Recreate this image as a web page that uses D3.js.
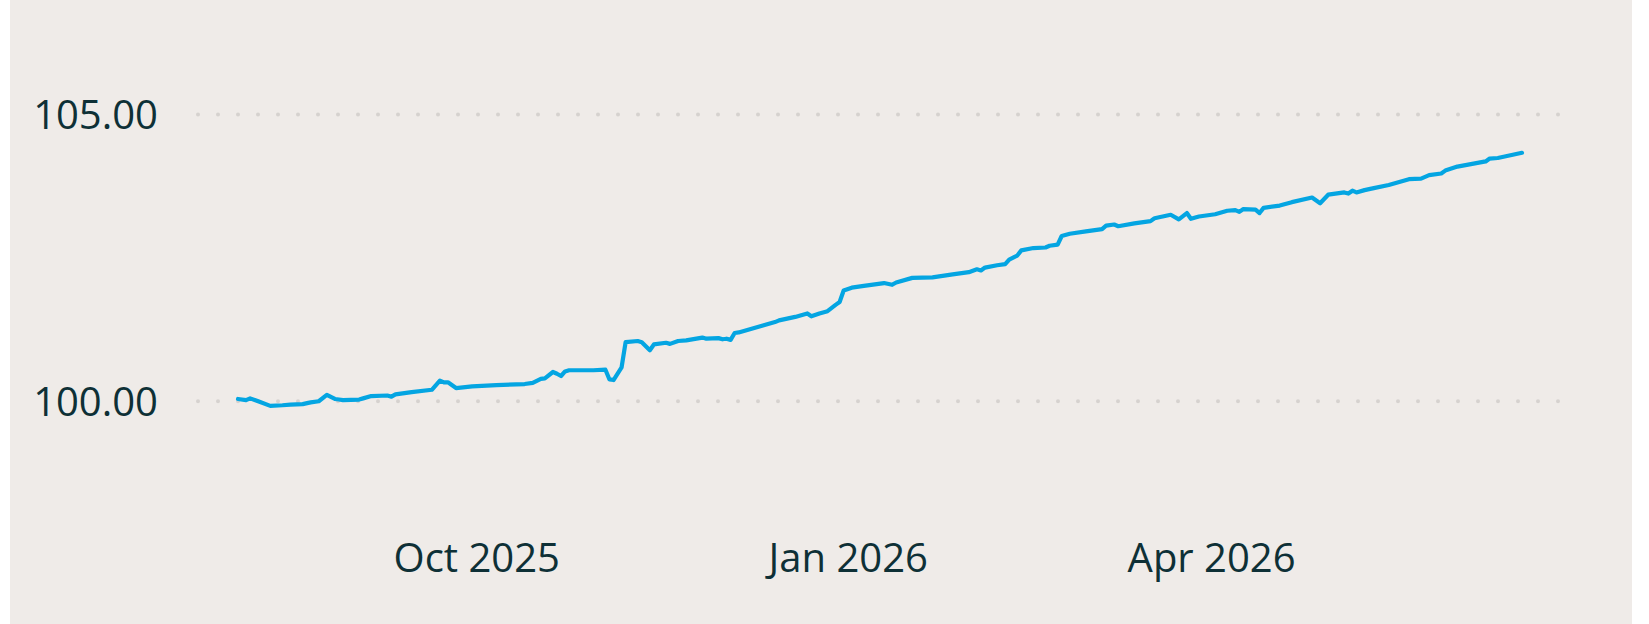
<!DOCTYPE html>
<html>
<head>
<meta charset="utf-8">
<script src="https://cdn.jsdelivr.net/npm/d3@7"></script>
<style>
    html, body { margin: 0; padding: 0; background: #ffffff; }
    svg { display: block; }
    .tick-label { font-family: "Segoe UI", "Open Sans", sans-serif; font-size: 40px; fill: #0e3036; }
</style>
</head>
<body>
<svg id="chart" width="1649" height="624"></svg>
<script>
// index values
const dates = [
    "2025-08-03","2025-08-05","2025-08-06","2025-08-08","2025-08-11","2025-08-14","2025-08-16","2025-08-19",
    "2025-08-21","2025-08-23","2025-08-25","2025-08-27","2025-08-28","2025-08-29","2025-09-02","2025-09-03",
    "2025-09-05","2025-09-09","2025-09-10","2025-09-11","2025-09-15","2025-09-20","2025-09-22","2025-09-23",
    "2025-09-24","2025-09-26","2025-09-30","2025-10-06","2025-10-13","2025-10-15","2025-10-17","2025-10-18",
    "2025-10-20","2025-10-21","2025-10-22","2025-10-23","2025-10-24","2025-10-30","2025-11-02","2025-11-03",
    "2025-11-04","2025-11-06","2025-11-07","2025-11-10","2025-11-11","2025-11-13","2025-11-14","2025-11-17",
    "2025-11-18","2025-11-20","2025-11-22","2025-11-26","2025-11-27","2025-11-30","2025-12-01","2025-12-02",
    "2025-12-03","2025-12-04","2025-12-05","2025-12-11","2025-12-14","2025-12-15","2025-12-19","2025-12-22",
    "2025-12-23","2025-12-25","2025-12-27","2025-12-29","2025-12-30","2025-12-31","2026-01-02","2026-01-05",
    "2026-01-10","2026-01-12","2026-01-13","2026-01-17","2026-01-22","2026-01-27","2026-01-31","2026-02-02",
    "2026-02-03","2026-02-04","2026-02-07","2026-02-09","2026-02-10","2026-02-12","2026-02-13","2026-02-16",
    "2026-02-19","2026-02-20","2026-02-22","2026-02-23","2026-02-25","2026-03-01","2026-03-05","2026-03-06",
    "2026-03-08","2026-03-09","2026-03-13","2026-03-17","2026-03-18","2026-03-22","2026-03-24","2026-03-26",
    "2026-03-27","2026-03-29","2026-04-02","2026-04-05","2026-04-07","2026-04-08","2026-04-09","2026-04-12",
    "2026-04-13","2026-04-14","2026-04-18","2026-04-21","2026-04-26","2026-04-28","2026-04-30","2026-05-04",
    "2026-05-05","2026-05-06","2026-05-07","2026-05-09","2026-05-11","2026-05-15","2026-05-20","2026-05-23",
    "2026-05-25","2026-05-28","2026-05-29","2026-06-01","2026-06-08","2026-06-09","2026-06-11","2026-06-17"
];
const values = [
    100.04,100.02,100.05,100.00, 99.92, 99.93, 99.94, 99.95,
     99.98,100.00,100.11,100.04,100.03,100.02,100.03,100.05,
    100.09,100.10,100.08,100.12,100.16,100.20,100.36,100.33,
    100.33,100.23,100.26,100.28,100.30,100.32,100.39,100.40,
    100.51,100.48,100.44,100.52,100.54,100.54,100.55,100.38,
    100.37,100.59,101.03,101.05,101.03,100.89,100.99,101.02,
    101.00,101.05,101.06,101.11,101.09,101.10,101.08,101.09,
    101.07,101.19,101.20,101.32,101.38,101.41,101.47,101.53,
    101.48,101.53,101.57,101.68,101.73,101.93,101.98,102.01,
    102.06,102.03,102.07,102.15,102.16,102.21,102.25,102.30,
    102.28,102.33,102.37,102.39,102.47,102.54,102.63,102.67,
    102.68,102.71,102.73,102.88,102.92,102.96,103.00,103.06,
    103.08,103.05,103.10,103.14,103.19,103.25,103.17,103.28,
    103.18,103.22,103.26,103.32,103.33,103.30,103.35,103.34,
    103.28,103.37,103.41,103.47,103.55,103.45,103.60,103.64,
    103.62,103.67,103.64,103.68,103.71,103.77,103.87,103.88,
    103.94,103.97,104.02,104.09,104.18,104.23,104.24,104.33
];
const yTicks = [100, 105];
const xTicks = ["2025-10-01", "2026-01-01", "2026-04-01"];
const xTickLabels = ["Oct 2025", "Jan 2026", "Apr 2026"];

const W = 1649, H = 624;
const margin = { top: 57, right: 89, bottom: 108, left: 197 };
const w = W - margin.left - margin.right;
const h = H - margin.top - margin.bottom;

const parse = d3.utcParse("%Y-%m-%d");
const data = dates.map((d, i) => ({ date: parse(d), value: values[i] }));

// the line sits inside the plot, with some room on both sides
const xScale = d3.scaleUtc()
    .domain(d3.extent(data, d => d.date))
    .range([238 - margin.left, 1522 - margin.left]);

const yScale = d3.scaleLinear()
    .domain([98, 106])
    .range([h, 0]);

const svg = d3.select("#chart");

svg.append("rect")
    .attr("x", 10).attr("y", 0)
    .attr("width", 1622).attr("height", H)
    .attr("fill", "#efebe8");

const g = svg.append("g").attr("transform", `translate(${margin.left},${margin.top})`);

// dotted grid lines
g.append("g").attr("class", "grid")
    .selectAll("line")
    .data(yTicks)
    .enter().append("line")
    .attr("x1", 1).attr("x2", w)
    .attr("y1", d => yScale(d)).attr("y2", d => yScale(d))
    .attr("stroke", "#d6d2cf")
    .attr("stroke-width", 4)
    .attr("stroke-linecap", "round")
    .attr("stroke-dasharray", "0,20");

// Y axis
const yAxis = d3.axisLeft(yScale)
    .tickValues(yTicks)
    .tickFormat(d3.format(".2f"))
    .tickSize(0)
    .tickPadding(39);

const yG = g.append("g").call(yAxis);
yG.select(".domain").remove();
yG.attr("font-size", null).attr("font-family", null);
yG.selectAll("text")
    .attr("class", "tick-label")
    .attr("fill", null)
    .attr("dy", "0.35em");

// X axis
const xAxis = d3.axisBottom(xScale)
    .tickValues(xTicks.map(parse))
    .tickFormat((d, i) => xTickLabels[i])
    .tickSize(0)
    .tickPadding(0);

const xG = g.append("g")
    .attr("transform", `translate(0,${h})`)
    .call(xAxis);
xG.select(".domain").remove();
xG.attr("font-size", null).attr("font-family", null);
xG.selectAll("text")
    .attr("class", "tick-label")
    .attr("fill", null)
    .attr("y", 56)
    .attr("dy", null);

// the series
const line = d3.line()
    .x(d => xScale(d.date))
    .y(d => yScale(d.value));

g.append("path")
    .datum(data)
    .attr("d", line)
    .attr("fill", "none")
    .attr("stroke", "#04a5e2")
    .attr("stroke-width", 4.2)
    .attr("stroke-linejoin", "round")
    .attr("stroke-linecap", "round");
</script>
</body>
</html>
